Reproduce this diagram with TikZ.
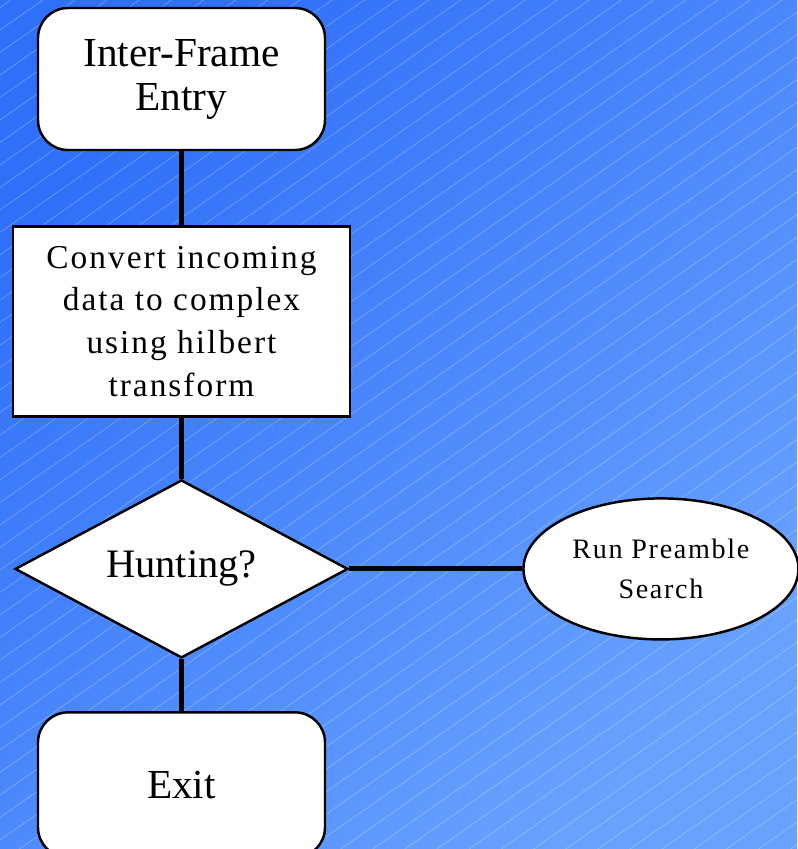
\documentclass[tikz,border=0pt]{standalone}
\usepackage{fontspec}
\setmainfont{Liberation Serif}
\newfontfamily\spacedfont[LetterSpace=6]{Liberation Serif}
\usetikzlibrary{positioning,shapes.geometric}
\definecolor{bgtop}{RGB}{48,112,248}
\definecolor{bgbottom}{RGB}{104,162,255}

\begin{document}
\begin{tikzpicture}
[node distance = 1cm, auto,
% STYLES
every node/.style={draw, line width=1.4pt, fill=white, align=center, inner sep=0pt},
% rounded boxes for the entry and the exit
terminal/.style={rectangle, rounded corners=0.6cm, minimum width=5.74cm, minimum height=2.84cm, font=\fontsize{23.5}{25}\selectfont},
% plain box for a processing step
process/.style={rectangle, minimum width=6.74cm, minimum height=3.8cm, font=\spacedfont\fontsize{19}{24.4}\selectfont},
% the question
decision/.style={diamond, aspect=1.3, minimum width=6.66cm, minimum height=3.56cm, font=\fontsize{23}{25}\selectfont},
% side action
action/.style={ellipse, minimum width=5.5cm, minimum height=2.82cm, font=\spacedfont\fontsize{16}{22.7}\selectfont},
link/.style={line width=2.8pt}]

% Background
\useasboundingbox (0,0) rectangle (15.94,-16.98);
\shade[top color=bgtop, bottom color=bgbottom, shading angle=45] (0,0) rectangle (15.94,-16.98);
\begin{scope}
\clip (0,0) rectangle (15.94,-16.98);
\foreach \k in {0,...,64}
  \draw[white, opacity=0.35, line width=0.3pt] (0,0.3-0.45*\k) -- ++(16,11.2);
\end{scope}

% Draw steps
\node [terminal] (entry) at (3.63,-1.58) {Inter-Frame\\Entry};
\node [process, below=1.48cm of entry] (convert) {Convert incoming\\data to complex\\using hilbert\\transform};
\node [decision, below=1.22cm of convert] (hunting) {Hunting?};
\node [action, right=3.46cm of hunting] (search) {Run Preamble\\Search};
\node [terminal, below=1.04cm of hunting, minimum height=2.9cm] (exit) {Exit};

% Draw the links between steps
\draw[link] (entry) -- (convert);
\draw[link] (convert) -- (hunting);
\draw[link] (hunting) -- (exit);
\draw[link] (hunting.east) -- (search.west);

\end{tikzpicture}
\end{document}
